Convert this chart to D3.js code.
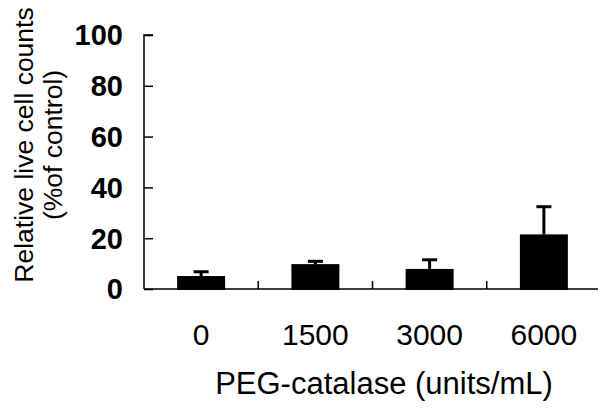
<!DOCTYPE html>
<html>
<head>
<meta charset="utf-8">
<script src="https://cdn.jsdelivr.net/npm/d3@7"></script>
<style>
  html, body { margin: 0; padding: 0; background: #fff; }
  svg { display: block; }
  text { font-family: "Liberation Sans", Arial, sans-serif; fill: #000; }
</style>
</head>
<body>
<script>
const categories = ["0", "1500", "3000", "6000"];
const means = [5.1, 9.8, 7.9, 21.5];
const errors = [1.7, 1.1, 3.6, 10.9];
const yTicks = [0, 20, 40, 60, 80, 100];

const W = 599, H = 408;
const svg = d3.select("body").append("svg").attr("width", W).attr("height", H);

const x = d3.scaleBand().domain(categories).range([144, 601]).padding(0);
const y = d3.scaleLinear().domain([0, 100]).range([289, 35]);
const barW = x.bandwidth() * 0.42;

// y axis
const yAxis = d3.axisRight(y).tickValues(yTicks).tickSize(9).tickFormat("");
const gy = svg.append("g").attr("transform", "translate(144,0)").call(yAxis);
gy.select(".domain").attr("stroke", "#000").attr("stroke-width", 1.5).attr("d", `M9,${y(100)}H0V${y(0)}`);
gy.selectAll(".tick line").attr("stroke", "#000").attr("stroke-width", 1.5);

svg.append("g").selectAll("text").data(yTicks).join("text")
  .attr("x", 123).attr("y", d => y(d))
  .attr("dy", "0.36em")
  .attr("text-anchor", "end")
  .attr("font-size", 29).attr("font-weight", "bold")
  .text(d => d);

// x axis line
svg.append("line").attr("x1", 144).attr("x2", 598).attr("y1", y(0)).attr("y2", y(0))
  .attr("stroke", "#000").attr("stroke-width", 1.5);

// separator ticks between categories
svg.append("g").selectAll("line").data(categories.slice(1)).join("line")
  .attr("x1", d => x(d)).attr("x2", d => x(d))
  .attr("y1", y(0)).attr("y2", y(0) - 8)
  .attr("stroke", "#000").attr("stroke-width", 1.5);

// error bars
const eb = svg.append("g");
eb.selectAll("line.stem").data(categories).join("line").attr("class", "stem")
  .attr("x1", d => x(d) + x.bandwidth() / 2).attr("x2", d => x(d) + x.bandwidth() / 2)
  .attr("y1", (d, i) => y(means[i])).attr("y2", (d, i) => y(means[i] + errors[i]))
  .attr("stroke", "#000").attr("stroke-width", 3);
eb.selectAll("line.cap").data(categories).join("line").attr("class", "cap")
  .attr("x1", d => x(d) + x.bandwidth() / 2 - 7.5).attr("x2", d => x(d) + x.bandwidth() / 2 + 7.5)
  .attr("y1", (d, i) => y(means[i] + errors[i])).attr("y2", (d, i) => y(means[i] + errors[i]))
  .attr("stroke", "#000").attr("stroke-width", 3);

// bars
svg.append("g").selectAll("rect").data(categories).join("rect")
  .attr("x", d => x(d) + (x.bandwidth() - barW) / 2)
  .attr("width", barW)
  .attr("y", (d, i) => y(means[i]))
  .attr("height", (d, i) => y(0) - y(means[i]) + 1)
  .attr("fill", "#000");

// x tick labels
svg.append("g").selectAll("text").data(categories).join("text")
  .attr("x", d => x(d) + x.bandwidth() / 2)
  .attr("y", 345)
  .attr("text-anchor", "middle")
  .attr("font-size", 30)
  .text(d => d);

// x title
svg.append("text").attr("x", 384).attr("y", 394).attr("text-anchor", "middle")
  .attr("font-size", 31).text("PEG-catalase (units/mL)");

// y title
const yt = svg.append("text").attr("transform", "translate(0,145) rotate(-90)")
  .attr("text-anchor", "middle").attr("font-size", 26.5);
yt.append("tspan").attr("x", 0).attr("y", 33).text("Relative live cell counts");
yt.append("tspan").attr("x", 0).attr("y", 62).text("(%of control)");
</script>
</body>
</html>
